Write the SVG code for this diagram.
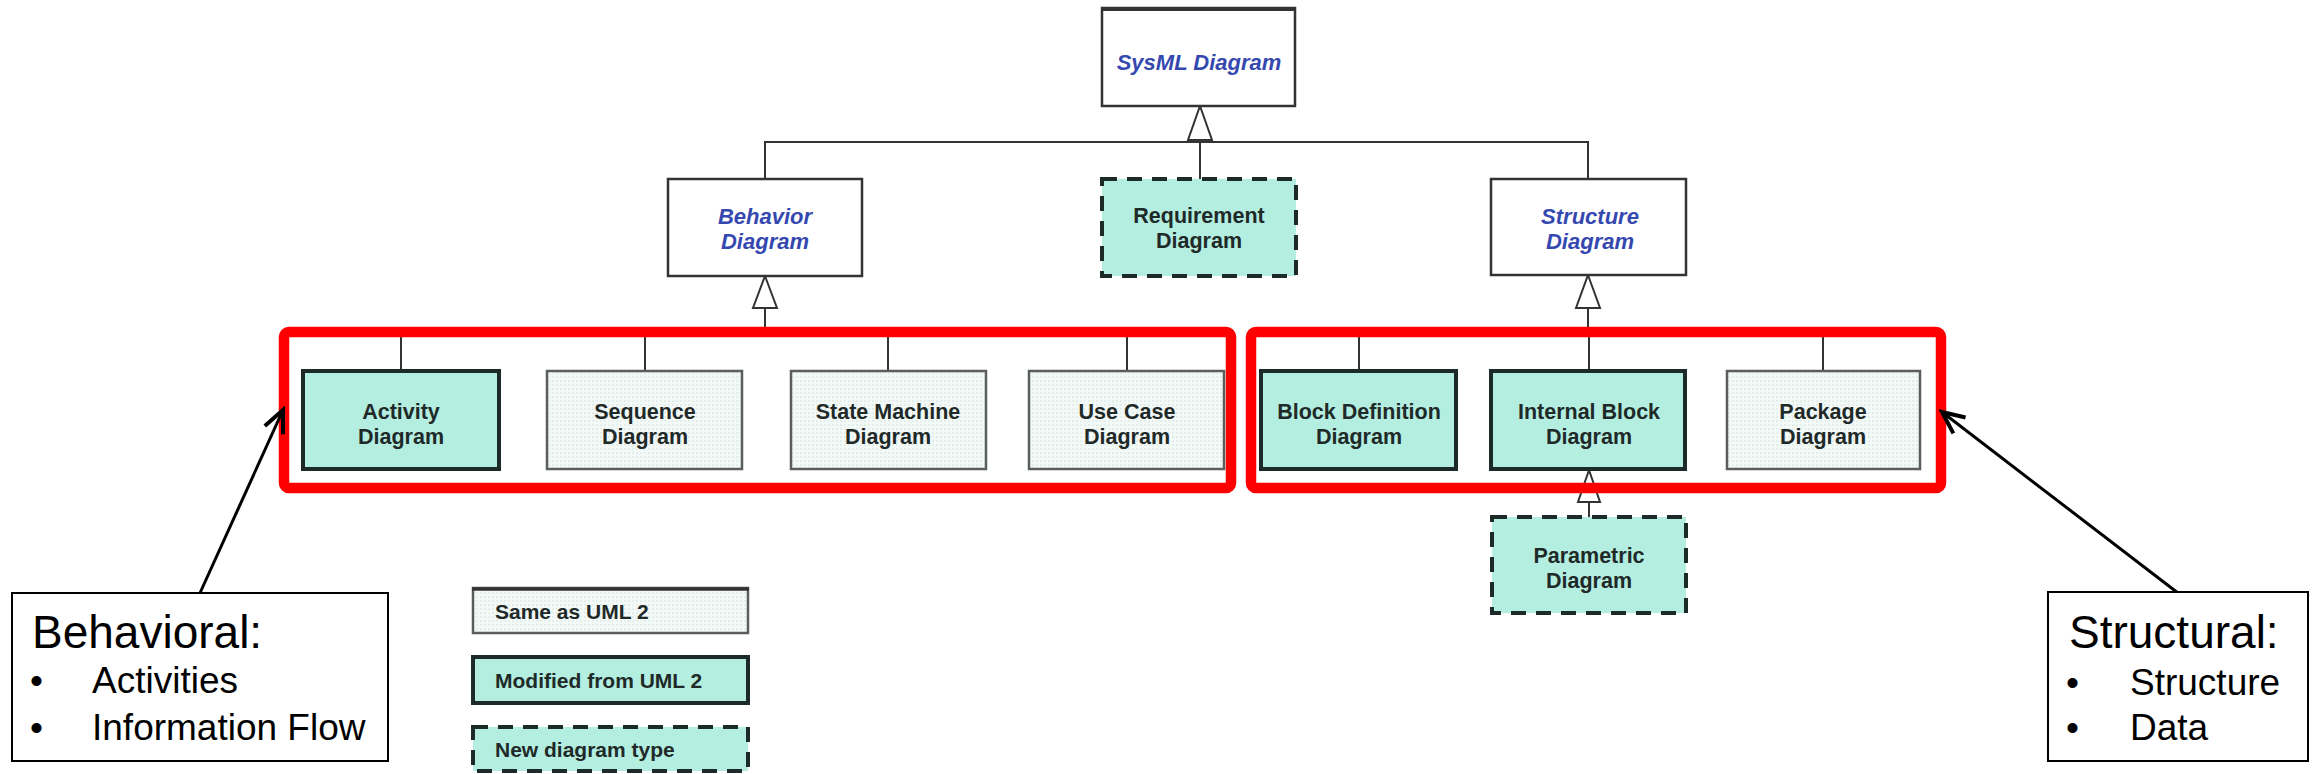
<svg xmlns="http://www.w3.org/2000/svg" width="2318" height="774" viewBox="0 0 2318 774">
  <defs>
    <style>
      .abstract { fill: #ffffff; stroke: #333333; stroke-width: 2.5; }
      .same { fill: url(#hatch); stroke: #5a5f5e; stroke-width: 2.5; }
      .modified { fill: #b3eee1; stroke: #1d2b28; stroke-width: 4; }
      .newtype { fill: #b3eee1; stroke: #1d2b28; stroke-width: 4; stroke-dasharray: 15 10; }
      .ital { font-family: "Liberation Sans", Arial, sans-serif; font-style: italic; font-weight: bold; font-size: 22px; fill: #3548b0; text-anchor: middle; }
      .lbl { font-family: "Liberation Sans", Arial, sans-serif; font-weight: bold; font-size: 21.5px; fill: #1f2a28; text-anchor: middle; }
      .leg { font-family: "Liberation Sans", Arial, sans-serif; font-weight: bold; font-size: 21px; fill: #1f2a28; }
      .conn { fill: none; stroke: #333333; stroke-width: 2; }
      .gen { fill: #ffffff; stroke: #333333; stroke-width: 2; }
      .group { fill: none; stroke: #ff0000; stroke-width: 10.5; }
      .callout { fill: #ffffff; stroke: #000000; stroke-width: 2; }
      .pointer { fill: none; stroke: #000000; stroke-width: 3; }
      .head { font-family: "Liberation Sans", Arial, sans-serif; font-size: 46px; fill: #000000; }
      .item { font-family: "Liberation Sans", Arial, sans-serif; font-size: 37px; fill: #000000; }
    </style>
    <pattern id="hatch" width="4" height="4" patternUnits="userSpaceOnUse">
      <rect width="4" height="4" fill="#f3f9f7"/>
      <rect width="2" height="2" fill="#e4efec"/>
    </pattern>
    <marker id="open" markerUnits="userSpaceOnUse" markerWidth="30" markerHeight="30" viewBox="-26 -14 30 28" refX="0" refY="0" orient="auto">
      <path d="M-22,-10 L0,0 L-22,10" fill="none" stroke="#000000" stroke-width="4"/>
    </marker>
  </defs>

  <rect width="2318" height="774" fill="#ffffff"/>

  <!-- connectors: generalization trees -->
  <g id="connectors">
    <!-- SysML Diagram specializations -->
    <polyline class="conn" points="765,179 765,142 1588,142 1588,179"/>
    <line class="conn" x1="1200" y1="140" x2="1200" y2="179"/>
    <polygon class="gen" points="1200,106 1212,140 1188,140"/>
    <!-- Behavior Diagram specializations -->
    <line class="conn" x1="765" y1="308" x2="765" y2="332"/>
    <polyline class="conn" points="401,371 401,332 1127,332 1127,371"/>
    <line class="conn" x1="645" y1="332" x2="645" y2="371"/>
    <line class="conn" x1="888" y1="332" x2="888" y2="371"/>
    <polygon class="gen" points="765,276 777,308 753,308"/>
    <!-- Structure Diagram specializations -->
    <line class="conn" x1="1588" y1="308" x2="1588" y2="332"/>
    <polyline class="conn" points="1359,371 1359,332 1823,332 1823,371"/>
    <line class="conn" x1="1589" y1="332" x2="1589" y2="371"/>
    <polygon class="gen" points="1588,275 1600,308 1576,308"/>
    <!-- Parametric specializes Internal Block -->
    <line class="conn" x1="1589" y1="502" x2="1589" y2="517"/>
    <polygon class="gen" points="1589,470 1600,502 1578,502"/>
  </g>

  <!-- top level -->
  <g id="sysml">
    <rect class="abstract" x="1102" y="8" width="193" height="98"/>
    <line x1="1101" y1="9" x2="1296" y2="9" stroke="#333333" stroke-width="4"/>
    <text class="ital" x="1199" y="70">SysML Diagram</text>
  </g>
  <g id="behavior">
    <rect class="abstract" x="668" y="179" width="194" height="97"/>
    <text class="ital" x="765" y="224">Behavior</text>
    <text class="ital" x="765" y="249">Diagram</text>
  </g>
  <g id="requirement">
    <rect class="newtype" x="1102" y="179" width="194" height="97"/>
    <text class="lbl" x="1199" y="223">Requirement</text>
    <text class="lbl" x="1199" y="248">Diagram</text>
  </g>
  <g id="structure">
    <rect class="abstract" x="1491" y="179" width="195" height="96"/>
    <text class="ital" x="1590" y="224">Structure</text>
    <text class="ital" x="1590" y="249">Diagram</text>
  </g>

  <!-- behavioral diagrams -->
  <g id="activity">
    <rect class="modified" x="303" y="371" width="196" height="98"/>
    <text class="lbl" x="401" y="419">Activity</text>
    <text class="lbl" x="401" y="444">Diagram</text>
  </g>
  <g id="sequence">
    <rect class="same" x="547" y="371" width="195" height="98"/>
    <text class="lbl" x="645" y="419">Sequence</text>
    <text class="lbl" x="645" y="444">Diagram</text>
  </g>
  <g id="state-machine">
    <rect class="same" x="791" y="371" width="195" height="98"/>
    <text class="lbl" x="888" y="419">State Machine</text>
    <text class="lbl" x="888" y="444">Diagram</text>
  </g>
  <g id="use-case">
    <rect class="same" x="1029" y="371" width="195" height="98"/>
    <text class="lbl" x="1127" y="419">Use Case</text>
    <text class="lbl" x="1127" y="444">Diagram</text>
  </g>

  <!-- structural diagrams -->
  <g id="block-definition">
    <rect class="modified" x="1261" y="371" width="195" height="98"/>
    <text class="lbl" x="1359" y="419">Block Definition</text>
    <text class="lbl" x="1359" y="444">Diagram</text>
  </g>
  <g id="internal-block">
    <rect class="modified" x="1491" y="371" width="194" height="98"/>
    <text class="lbl" x="1589" y="419">Internal Block</text>
    <text class="lbl" x="1589" y="444">Diagram</text>
  </g>
  <g id="package">
    <rect class="same" x="1727" y="371" width="193" height="98"/>
    <text class="lbl" x="1823" y="419">Package</text>
    <text class="lbl" x="1823" y="444">Diagram</text>
  </g>
  <g id="parametric">
    <rect class="newtype" x="1492" y="517" width="194" height="96"/>
    <text class="lbl" x="1589" y="563">Parametric</text>
    <text class="lbl" x="1589" y="588">Diagram</text>
  </g>

  <!-- red grouping frames -->
  <g id="behavioral-group">
    <rect class="group" x="284" y="332" width="947" height="156" rx="5"/>
  </g>
  <g id="structural-group">
    <rect class="group" x="1251" y="332" width="690" height="156" rx="5"/>
  </g>

  <!-- legend -->
  <g id="legend">
    <g id="legend-same">
      <rect class="same" x="473" y="588" width="275" height="45"/>
      <line x1="472" y1="589" x2="749" y2="589" stroke="#333333" stroke-width="3.5"/>
      <text class="leg" x="495" y="619">Same as UML 2</text>
    </g>
    <g id="legend-modified">
      <rect class="modified" x="473" y="657" width="275" height="46"/>
      <text class="leg" x="495" y="688">Modified from UML 2</text>
    </g>
    <g id="legend-new">
      <rect class="newtype" x="473" y="727" width="275" height="44"/>
      <text class="leg" x="495" y="757">New diagram type</text>
    </g>
  </g>

  <!-- callouts -->
  <g id="connectors-callouts">
    <line class="pointer" x1="200" y1="593" x2="283" y2="410" marker-end="url(#open)"/>
    <line class="pointer" x1="2178" y1="593" x2="1942" y2="412" marker-end="url(#open)"/>
  </g>
  <g id="behavioral-note">
    <rect class="callout" x="12" y="593" width="376" height="168"/>
    <text class="head" x="32" y="648">Behavioral:</text>
    <text class="item" x="30" y="693">•</text>
    <text class="item" x="92" y="693">Activities</text>
    <text class="item" x="30" y="740">•</text>
    <text class="item" x="92" y="740">Information Flow</text>
  </g>
  <g id="structural-note">
    <rect class="callout" x="2048" y="592" width="260" height="169"/>
    <text class="head" x="2069" y="648">Structural:</text>
    <text class="item" x="2066" y="695">•</text>
    <text class="item" x="2130" y="695">Structure</text>
    <text class="item" x="2066" y="740">•</text>
    <text class="item" x="2130" y="740">Data</text>
  </g>
</svg>
